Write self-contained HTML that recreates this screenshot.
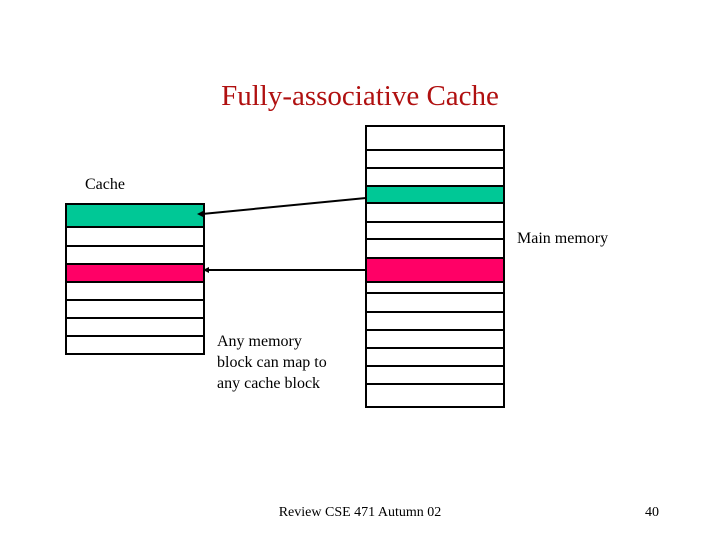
<!DOCTYPE html>
<html><head><style>
body{margin:0;width:720px;height:540px;background:#fff;overflow:hidden;font-family:"Liberation Serif",serif;}
</style></head><body>
<svg width="720" height="540" xmlns="http://www.w3.org/2000/svg" font-family="Liberation Serif, serif">
<text x="360" y="105" text-anchor="middle" font-size="29" fill="#b01010">Fully-associative Cache</text>
<text x="85" y="189" font-size="16">Cache</text>
<text x="517" y="243" font-size="16">Main memory</text>
<text x="217" y="346" font-size="16">Any memory</text>
<text x="217" y="367" font-size="16">block can map to</text>
<text x="217" y="388" font-size="16">any cache block</text>
<text x="360" y="516" text-anchor="middle" font-size="14">Review CSE 471 Autumn 02</text>
<text x="652" y="516" text-anchor="middle" font-size="14">40</text>
<g stroke="#000" stroke-width="2">
<rect x="66" y="204" width="138" height="23" fill="#00c896"/>
<rect x="66" y="264" width="138" height="18" fill="#ff0066"/>
<rect x="66" y="204" width="138" height="150" fill="none"/>
<line x1="66" y1="246" x2="204" y2="246"/>
<line x1="66" y1="300" x2="204" y2="300"/>
<line x1="66" y1="318" x2="204" y2="318"/>
<line x1="66" y1="336" x2="204" y2="336"/>
<rect x="366" y="186" width="138" height="17" fill="#00c896"/>
<rect x="366" y="258" width="138" height="24" fill="#ff0066"/>
<rect x="366" y="126" width="138" height="281" fill="none"/>
<line x1="366" y1="150" x2="504" y2="150"/>
<line x1="366" y1="168" x2="504" y2="168"/>
<line x1="366" y1="222" x2="504" y2="222"/>
<line x1="366" y1="239" x2="504" y2="239"/>
<line x1="366" y1="293" x2="504" y2="293"/>
<line x1="366" y1="312" x2="504" y2="312"/>
<line x1="366" y1="330" x2="504" y2="330"/>
<line x1="366" y1="348" x2="504" y2="348"/>
<line x1="366" y1="366" x2="504" y2="366"/>
<line x1="366" y1="384" x2="504" y2="384"/>
<line x1="366" y1="198" x2="202" y2="214"/>
<line x1="366" y1="270" x2="206" y2="270"/>
</g>
<polygon points="197,214 205,210 205,218" fill="#000"/>
<polygon points="203,270 209,267 209,273" fill="#000"/>
</svg>
</body></html>
